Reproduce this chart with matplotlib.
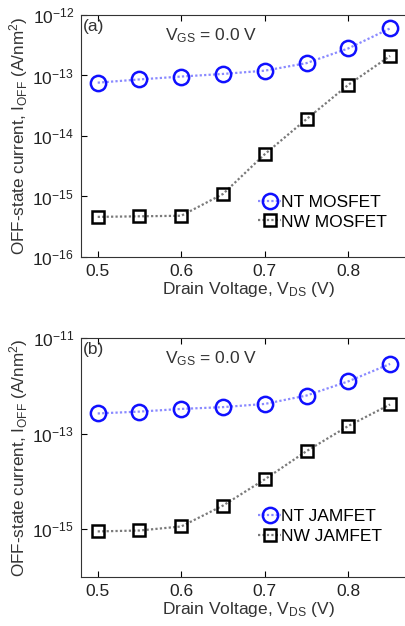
import numpy as np
import matplotlib
matplotlib.use('Agg')
from matplotlib import pyplot as plt
from matplotlib.ticker import FixedLocator, NullLocator

plt.rcParams['font.family'] = ['Liberation Sans', 'DejaVu Sans']
plt.rcParams['mathtext.fontset'] = 'custom'
plt.rcParams['mathtext.rm'] = 'Liberation Sans'
plt.rcParams['mathtext.it'] = 'Liberation Sans:italic'
plt.rcParams['mathtext.bf'] = 'Liberation Sans:bold'

vds = [0.5, 0.55, 0.6, 0.65, 0.7, 0.75, 0.8, 0.85]
nt_mosfet = [7.6e-14, 8.6e-14, 9.6e-14, 1.06e-13, 1.2e-13, 1.6e-13, 2.8e-13, 6.0e-13]
nw_mosfet = [4.6e-16, 4.7e-16, 4.8e-16, 1.1e-15, 5.0e-15, 1.9e-14, 7.0e-14, 2.1e-13]
nt_jamfet = [2.65e-13, 2.9e-13, 3.3e-13, 3.6e-13, 4.2e-13, 6.3e-13, 1.25e-12, 2.9e-12]
nw_jamfet = [8.9e-16, 9.3e-16, 1.13e-15, 3.1e-15, 1.1e-14, 4.3e-14, 1.45e-13, 4.1e-13]
xticks = [0.5, 0.6, 0.7, 0.8]
yticks_a = [1e-16, 1e-15, 1e-14, 1e-13, 1e-12]
yticks_b = [1e-15, 1e-13, 1e-11]

W, H = 405, 626
fig = plt.figure(figsize=(W / 100, H / 100), dpi=100)

def panel(rect, nt, nw, labels, tag, ylim, yticks, leg_y):
    ax = fig.add_axes(rect)
    ax.plot(vds, nt, ls=(0, (1, 1)), color='#8a8aff', lw=1.6, marker='o', ms=11,
            mfc='none', mec='#1010ff', mew=1.8, label=labels[0])
    ax.plot(vds, nw, ls=(0, (1, 1)), color='#7a7a7a', lw=1.6, marker='s', ms=8.5,
            mfc='none', mec='black', mew=1.8, label=labels[1])
    ax.set_yscale('log')
    ax.set_xlim(0.48, 0.88)
    ax.set_ylim(*ylim)
    ax.set_xticks(xticks)
    ax.set_xticklabels([str(v) for v in xticks])
    ax.yaxis.set_major_locator(FixedLocator(yticks))
    ax.yaxis.set_minor_locator(NullLocator())
    ax.tick_params(direction='in', top=True, right=True, labelsize=12.5,
                   length=4, width=0.8, pad=5, labelcolor='#222222')
    for s in ax.spines.values():
        s.set_color('#333333')
    ax.set_xlabel('Drain Voltage, $\\mathregular{V_{DS}}$ (V)', fontsize=12.5,
                  color='#333333', labelpad=1)
    ax.set_ylabel('OFF-state current, $\\mathregular{I_{OFF}}$ (A/nm$\\mathregular{^2}$)',
                  fontsize=12.3, color='#333333', labelpad=2)
    ax.text(0.005, 0.985, tag, transform=ax.transAxes, fontsize=12.5,
            va='top', ha='left', color='#333333')
    ax.text(0.25, 0.955, '$\\mathregular{V_{GS}}$ = 0.0 V', transform=ax.transAxes,
            fontsize=12.5, va='top', ha='left', color='#333333')
    ax.legend(loc='center left', bbox_to_anchor=(0.51, leg_y), frameon=False,
              fontsize=12.5, handlelength=1.3, handletextpad=0.0,
              labelspacing=0.25, borderaxespad=0)
    return ax

panel([0.2, 0.5895, 0.825, 0.3866], nt_mosfet, nw_mosfet,
      ['NT MOSFET', 'NW MOSFET'], '(a)', (1e-16, 1e-12), yticks_a, 0.185)
panel([0.2, 0.0788, 0.825, 0.3808], nt_jamfet, nw_jamfet,
      ['NT JAMFET', 'NW JAMFET'], '(b)', (1e-16, 1e-11), yticks_b, 0.21)

fig.savefig('out.png', dpi=100)
